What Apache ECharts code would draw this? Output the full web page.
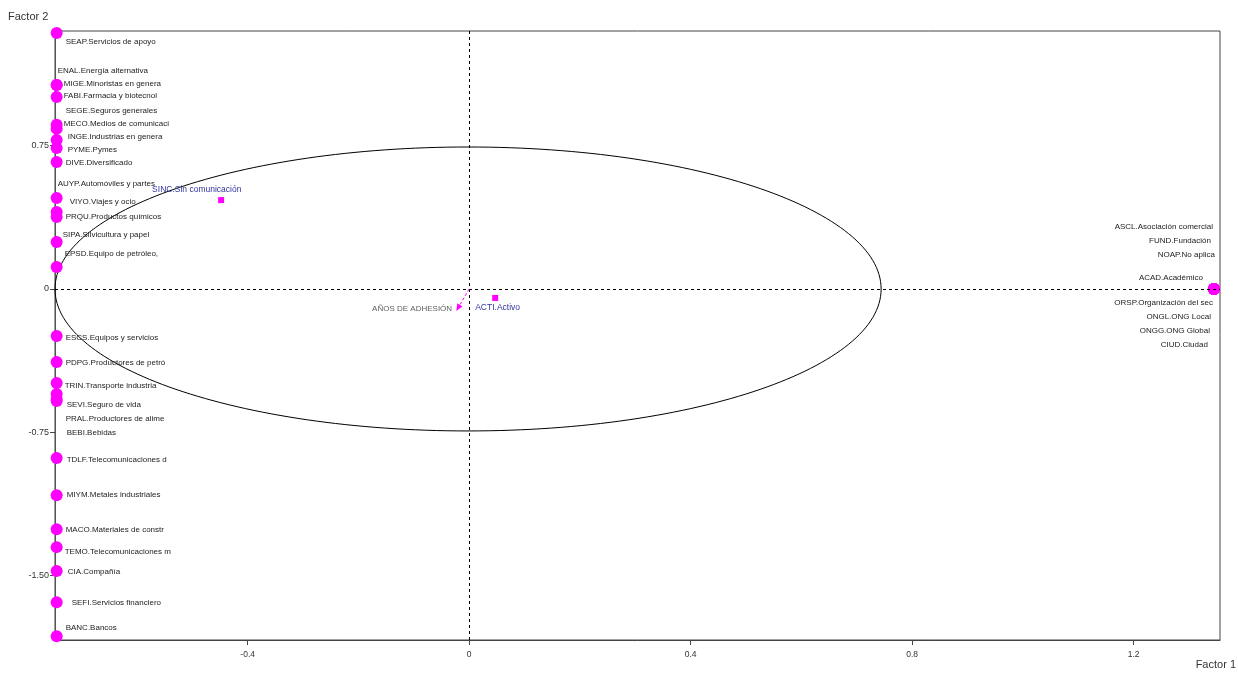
<!DOCTYPE html>
<html>
<head>
<meta charset="utf-8">
<script src="https://cdn.jsdelivr.net/npm/echarts@6/dist/echarts.min.js"></script>
<style>
html,body{margin:0;padding:0;background:#fff;}
#chart{width:1238px;height:673px;}
</style>
</head>
<body>
<div id="chart"></div>
<script>
// ---------- DATA ----------
const leftLabels = [
  "SEAP.Servicios de apoyo","ENAL.Energía alternativa","MIGE.Minoristas en genera","FABI.Farmacia y biotecnol",
  "SEGE.Seguros generales","MECO.Medios de comunicaci","INGE.Industrias en genera","PYME.Pymes",
  "DIVE.Diversificado","AUYP.Automóviles y partes","VIYO.Viajes y ocio","PRQU.Productos químicos",
  "SIPA.Silvicultura y papel","EPSD.Equipo de petróleo,","ESCS.Equipos y servicios","PDPG.Productores de petró",
  "TRIN.Transporte industria","SEVI.Seguro de vida","PRAL.Productores de alime","BEBI.Bebidas",
  "TDLF.Telecomunicaciones d","MIYM.Metales industriales","MACO.Materiales de constr","TEMO.Telecomunicaciones m",
  "CIA.Compañía","SEFI.Servicios financiero","BANC.Bancos"
];
const leftF1 = [
  -0.745,-0.745,-0.745,-0.745,-0.745,-0.745,-0.745,-0.745,-0.745,-0.745,-0.745,-0.745,-0.745,-0.745,
  -0.745,-0.745,-0.745,-0.745,-0.745,-0.745,-0.745,-0.745,-0.745,-0.745,-0.745,-0.745,-0.745
];
const leftF2 = [
  1.340,1.068,1.068,1.005,0.859,0.838,0.780,0.738,0.665,0.476,0.403,0.377,0.246,0.115,
  -0.246,-0.382,-0.492,-0.550,-0.586,-0.576,-0.885,-1.079,-1.257,-1.351,-1.476,-1.639,-1.817
];
const rightLabels = [
  "ASCL.Asociación comercial","FUND.Fundación","NOAP.No aplica","ACAD.Académico",
  "ORSP.Organización del sec","ONGL.ONG Local","ONGG.ONG Global","CIUD.Ciudad"
];
const rightF1 = [1.345,1.345,1.345,1.345,1.345,1.345,1.345,1.345];
const rightF2 = [0,0,0,0,0,0,0,0];
const suppLabels = ["SINC.Sin comunicación","ACTI.Activo"];
const suppF1 = [-0.448, 0.047];
const suppF2 = [0.465, -0.047];
const vectorLabel = "AÑOS DE ADHESIÓN";
const vectorEnd = [-0.020, -0.099];
const circleCenter = [-0.002, 0];
const circleRadii = [0.746, 0.743];
const xTicks = [-0.4, 0, 0.4, 0.8, 1.2];
const yTicks = [-1.5, -0.75, 0, 0.75];

// ---------- LAYOUT (label nudges in px) ----------
const leftLabelNudge = [
  [9,9],[1,-14],[7,-1],[7,-1],[9,-14],[7,-5],[11,-3],[11,2],[9,1],[1,-14],[13,-10],[9,0],[6,-7],[8,-13],
  [9,2],[9,1],[8,3],[10,11],[9,18],[10,34],[10,2],[10,0],[9,1],[8,5],[11,1],[15,1],[9,-8]
];
const rightLabelNudge = [[-1,-62],[-3,-48],[1,-34],[-11,-11],[-1,14],[-3,28],[-4,42],[-6,56]];
const suppLabelNudge = [[-69,-10],[-20,10]];

const FONT = '"Liberation Sans",Arial,sans-serif';
const MAG = '#ff00ff';
const BLUE = '#3535a5';

const chart = echarts.init(document.getElementById('chart'));
const labelBase = {show:true, position:'inside', verticalAlign:'middle', formatter:'{b}',
  fontFamily:FONT, fontSize:8, color:'#222'};

chart.setOption({
  animation:false,
  backgroundColor:'#fff',
  grid:{left:55, right:18, top:31, bottom:33, show:true, borderColor:'#444', borderWidth:1},
  xAxis:{type:'value', min:-0.748, max:1.356,
    axisLine:{show:true, onZero:false, lineStyle:{color:'#444'}},
    axisTick:{show:true, customValues:xTicks, length:5, lineStyle:{color:'#444'}},
    axisLabel:{customValues:xTicks, margin:10, fontSize:8.5, color:'#333', fontFamily:FONT,
      formatter:v=> v===0?'0':String(v)},
    splitLine:{show:false}},
  yAxis:{type:'value', min:-1.837, max:1.350,
    axisLine:{show:true, onZero:false, lineStyle:{color:'#555'}},
    axisTick:{show:true, customValues:yTicks, length:5, lineStyle:{color:'#444'}},
    axisLabel:{customValues:yTicks, margin:6, fontSize:9, color:'#333', fontFamily:FONT,
      formatter:v=> v===0?'0':v.toFixed(2)},
    splitLine:{show:false}},
  graphic:[
    {type:'text', left:8, top:11, style:{text:'Factor 2', fontSize:11, fill:'#333', fontFamily:FONT}},
    {type:'text', right:2, top:659, style:{text:'Factor 1', fontSize:11, fill:'#333', fontFamily:FONT}}
  ],
  series:[
    {type:'custom', silent:true, z:1,
      data:[[circleCenter[0], circleCenter[1], circleRadii[0], circleRadii[1]]],
      renderItem:(params, api)=>{
        const c = api.coord([api.value(0), api.value(1)]);
        const s = api.size([api.value(2), api.value(3)]);
        return {type:'ellipse', shape:{cx:c[0], cy:c[1], rx:s[0], ry:s[1]},
          style:{fill:'none', stroke:'#000', lineWidth:1}};
      },
      markLine:{silent:true, symbol:'none', label:{show:false},
        lineStyle:{color:'#000', type:[3,3], width:1},
        data:[{xAxis:0},{yAxis:0}]}
    },
    {type:'scatter', z:3, symbol:'circle', symbolSize:12, itemStyle:{color:MAG, opacity:1},
      label:Object.assign({}, labelBase, {align:'left'}),
      data:leftLabels.map((n,i)=>({name:n, value:[leftF1[i], leftF2[i]], label:{offset:leftLabelNudge[i]}}))
    },
    {type:'scatter', z:3, symbol:'circle', symbolSize:12, itemStyle:{color:MAG, opacity:1},
      label:Object.assign({}, labelBase, {align:'right'}),
      data:rightLabels.map((n,i)=>({name:n, value:[rightF1[i], rightF2[i]], label:{offset:rightLabelNudge[i]}}))
    },
    {type:'scatter', z:3, symbol:'rect', symbolSize:6, itemStyle:{color:MAG, opacity:1},
      label:Object.assign({}, labelBase, {align:'left', color:BLUE, fontSize:8.5}),
      data:suppLabels.map((n,i)=>({name:n, value:[suppF1[i], suppF2[i]], label:{offset:suppLabelNudge[i]}}))
    },
    {type:'scatter', z:3, symbolSize:0, silent:true,
      label:Object.assign({}, labelBase, {align:'right', color:'#333', offset:[-6,1]}),
      data:[{name:vectorLabel, value:vectorEnd}],
      markLine:{silent:true, symbol:['none','triangle'], symbolSize:[6,7], label:{show:false},
        lineStyle:{color:MAG, type:[3,2], width:1},
        data:[[{coord:[0,0]},{coord:vectorEnd}]]}
    }
  ]
});
</script>
</body>
</html>
